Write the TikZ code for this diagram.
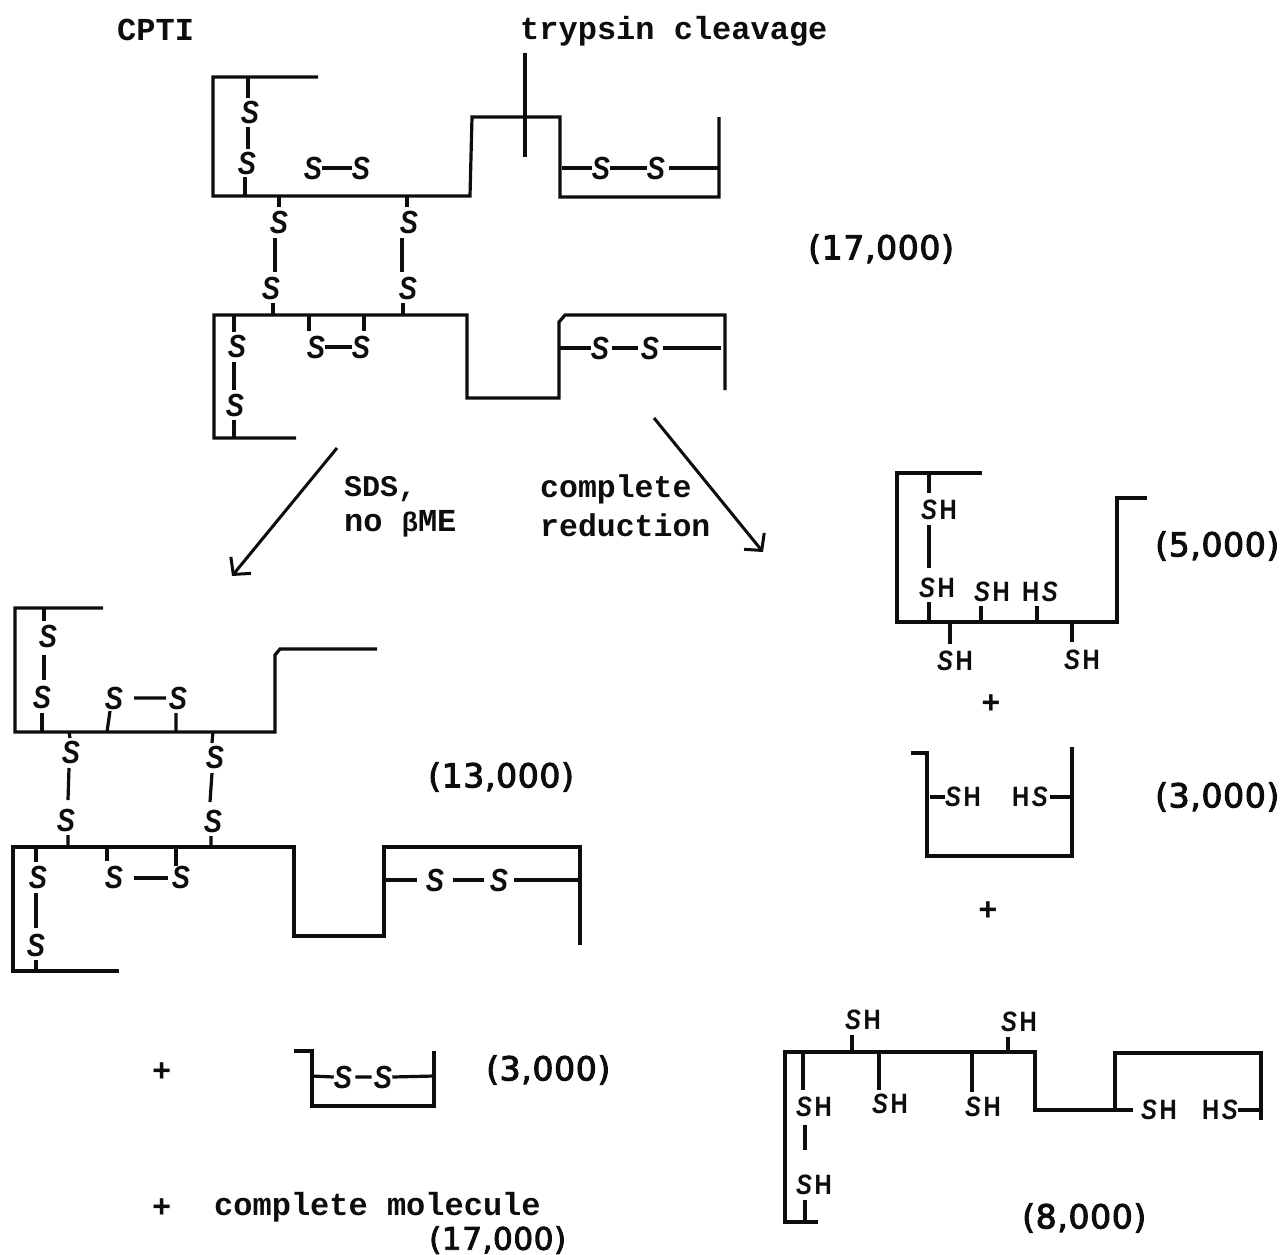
\documentclass[tikz,border=0pt]{standalone}
\usepackage{fontspec}
\setmainfont{Liberation Mono}
\newfontfamily\hand[FakeStretch=0.85]{Liberation Sans}
\newfontfamily\numf[LetterSpace=2,FakeBold=3]{DejaVu Sans}
\usetikzlibrary{arrows.meta}
\definecolor{ink}{gray}{0.05}
\newcommand{\fs}[1]{\fontsize{#1}{#1}\selectfont\bfseries}
\tikzset{
  x=1pt,y=-1pt,
  bond/.style={draw=ink,line width=3.2pt,line join=miter},
  lbl/.style={inner sep=0pt,anchor=west,text=ink,font=\fs{32}},
  num/.style={inner sep=0pt,anchor=west,text=ink,font=\numf\fontsize{33}{33}\selectfont},
  sul/.style={inner sep=0pt,text=ink,font=\hand\fontsize{32}{32}\selectfont\bfseries\itshape},
  sh/.style={inner sep=0pt,anchor=west,text=ink,font=\hand\fontsize{28}{28}\selectfont\bfseries},
  arrowline/.style={draw=ink,line width=3pt,-{Straight Barb[length=12pt,width=26pt,line width=3pt]}}
}
\newcommand{\Sx}{\textit{S}}
\newcommand{\SHx}{\Sx\kern2.5pt H}
\newcommand{\HSx}{H\kern2.5pt\Sx}
\begin{document}
\begin{tikzpicture}
\useasboundingbox[fill=white] (0,0) rectangle (1282,1255);
% ----- labels
\node[lbl] (cpti) at (117,30) {CPTI};
\node[lbl] (tryp) at (520,31) {trypsin cleavage};
\node[num] (m17a) at (808,249) {(17,000)};
\node[lbl,font=\fs{30}] (sds) at (344,489) {SDS,};
\node[lbl,font=\fs{32}] (nob) at (344,524) {no {\fs{27}β}ME};
\node[lbl,font=\fs{31.5}] (comp) at (540,489) {complete};
\node[lbl,font=\fs{31.5}] (red) at (540,525) {reduction};
\node[num] (m13) at (428,777) {(13,000)};
\node[lbl] (p1) at (152,1072) {+};
\node[num] (m3a) at (486,1070) {(3,000)};
\node[lbl] (p2) at (152,1208) {+};
\node[lbl] (cm) at (214,1207) {complete molecule};
\node[num,font=\numf\fontsize{31}{31}\selectfont] (m17b) at (429,1240) {(17,000)};
\node[num] (m5) at (1155,546) {(5,000)};
\node[num] (m3b) at (1155,797) {(3,000)};
\node[num] (m8) at (1022,1218) {(8,000)};
\node[lbl,anchor=center] (p3) at (991,704) {+};
\node[lbl,anchor=center] (p4) at (988,911) {+};
% ----- arrows
\coordinate (a1s) at (337,448); \coordinate (a1e) at (232,576);
\coordinate (a2s) at (654,418); \coordinate (a2e) at (763,552);
\draw[arrowline] (a1s) -- (a1e);
\draw[arrowline] (a2s) -- (a2e);
% ----- top molecule, upper chain
\draw[bond] (318,77) -- (213,77) -- (213,196) -- (470,196) -- (472,117) -- (560,117) -- (560,197) -- (719,197) -- (719,117);
\draw[bond] (525,53) -- (525,157);
\node[sul] (t1) at (250,112) {S};
\node[sul] (t2) at (247,163) {S};
\draw[bond] (248,78) -- (248,98) (248,127) -- (248,149) (245,177) -- (245,196);
\node[sul] (t3) at (313,168) {S};
\node[sul] (t4) at (361,168) {S};
\draw[bond] (t3.east) -- (t4.west);
\node[sul] (t5) at (601,168) {S};
\node[sul] (t6) at (656,168) {S};
\draw[bond] (562,168) -- (t5.west) (t5.east) -- (t6.west) (t6.east) ++(4,0) -- (719,168);
% ----- top molecule, inter-chain
\node[sul] (t7) at (279,222) {S};
\node[sul] (t8) at (271,288) {S};
\node[sul] (t9) at (409,222) {S};
\node[sul] (t10) at (408,288) {S};
\draw[bond] (279,197) -- (279,207) (275,238) -- (275,272) (273,303) -- (273,315);
\draw[bond] (407,197) -- (407,207) (402,238) -- (402,272) (403,303) -- (403,315);
% ----- top molecule, lower chain
\draw[bond] (296,438) -- (214,438) -- (214,315) -- (467,315) -- (467,398) -- (559,398) -- (559,322) -- (565,315) -- (725,315) -- (725,390);
\node[sul] (t11) at (237,346) {S};
\node[sul] (t12) at (235,405) {S};
\draw[bond] (234,315) -- (234,332) (234,362) -- (234,390) (234,420) -- (234,438);
\node[sul] (t13) at (316,347) {S};
\node[sul] (t14) at (361,347) {S};
\draw[bond] (309,315) -- (309,331) (364,315) -- (364,331) (t13.east) -- (t14.west);
\node[sul] (t15) at (600,348) {S};
\node[sul] (t16) at (650,348) {S};
\draw[bond] (560,348) -- (t15.west) (t15.east) ++(3,0) -- ([xshift=-3pt]t16.west) (t16.east) ++(4,0) -- (721,348);
% ----- left middle molecule, upper chain
\draw[bond] (103,608) -- (15,608) -- (15,732) -- (275,732) -- (275,655) -- (280,649) -- (377,649);
\node[sul] (l1) at (48,636) {S};
\node[sul] (l2) at (42,697) {S};
\draw[bond] (44,608) -- (44,621) (44,655) -- (44,680) (42,713) -- (42,732);
\node[sul] (l3) at (114,698) {S};
\node[sul] (l4) at (178,698) {S};
\draw[bond] (110,711) -- (107,732) (176,713) -- (176,732) (134,698) -- (166,698);
% inter-chain
\node[sul] (l5) at (71,752) {S};
\node[sul] (l6) at (66,820) {S};
\node[sul] (l7) at (215,757) {S};
\node[sul] (l8) at (213,821) {S};
\draw[bond] (69,732) -- (70,738) (69,768) -- (68,800) (68,835) -- (68,847);
\draw[bond] (213,732) -- (212,743) (212,773) -- (210,802) (211,836) -- (211,847);
% lower chain
\draw[bond] (119,971) -- (13,971) -- (13,847) -- (294,847) -- (294,936) -- (384,936) -- (384,847) -- (580,847) -- (580,945);
\node[sul] (l9) at (38,877) {S};
\node[sul] (l10) at (36,945) {S};
\draw[bond] (36,847) -- (36,862) (36,893) -- (36,928) (36,960) -- (36,971);
\node[sul] (l11) at (114,877) {S};
\node[sul] (l12) at (181,877) {S};
\draw[bond] (107,847) -- (107,861) (176,847) -- (176,866) (134,878) -- (168,878);
\node[sul] (l13) at (435,880) {S};
\node[sul] (l14) at (499,880) {S};
\draw[bond] (385,880) -- (417,880) (453,880) -- (484,880) (514,880) -- (580,880);
% ----- small fragment
\draw[bond] (294,1051) -- (312,1051) -- (312,1106) -- (434,1106) -- (434,1051);
\node[sul] (f1) at (343,1077) {S};
\node[sul] (f2) at (383,1077) {S};
\draw[bond] (312,1076) -- (f1.west) (f1.east) ++(3,0) -- ([xshift=-2pt]f2.west) (f2.east) -- (434,1076);
% ----- right, 5,000
\draw[bond] (982,473) -- (897,473) -- (897,622) -- (1117,622) -- (1117,498) -- (1147,498);
\node[sh] (r1) at (921,510) {\SHx};
\node[sh] (r2) at (919,588) {\SHx};
\draw[bond] (929,473) -- (929,493) (929,525) -- (929,568) (929,602) -- (929,622);
\node[sh] (r3) at (974,592) {\SHx};
\node[sh] (r4) at (1022,592) {\HSx};
\draw[bond] (981,606) -- (981,622) (1037,606) -- (1037,622);
\node[sh] (r5) at (937,661) {\SHx};
\node[sh] (r6) at (1064,660) {\SHx};
\draw[bond] (950,622) -- (950,644) (1072,622) -- (1072,642);
% ----- right, 3,000
\draw[bond] (911,753) -- (927,753) -- (927,856) -- (1072,856) -- (1072,747);
\node[sh] (r7) at (945,797) {\SHx};
\node[sh] (r8) at (1012,797) {\HSx};
\draw[bond] (930,797) -- (r7.west) (r8.east) ++(2,0) -- (1072,797);
% ----- right, 8,000
\draw[bond] (818,1222) -- (785,1222) -- (785,1052) -- (1035,1052) -- (1035,1110) -- (1115,1110) -- (1115,1053) -- (1261,1053) -- (1261,1120);
\node[sh] (r9) at (796,1107) {\SHx};
\node[sh] (r10) at (796,1185) {\SHx};
\draw[bond] (803,1052) -- (803,1090) (805,1125) -- (805,1150) (805,1200) -- (805,1222);
\node[sh] (r11) at (845,1020) {\SHx};
\node[sh] (r12) at (1001,1022) {\SHx};
\draw[bond] (852,1035) -- (852,1052) (1008,1037) -- (1008,1052);
\node[sh] (r13) at (872,1104) {\SHx};
\node[sh] (r14) at (965,1107) {\SHx};
\draw[bond] (879,1052) -- (879,1090) (972,1052) -- (972,1092);
\node[sh] (r15) at (1141,1110) {\SHx};
\node[sh] (r16) at (1202,1110) {\HSx};
\draw[bond] (1115,1110) -- (1133,1110) (r16.east) -- (1261,1110);
\end{tikzpicture}
\end{document}
